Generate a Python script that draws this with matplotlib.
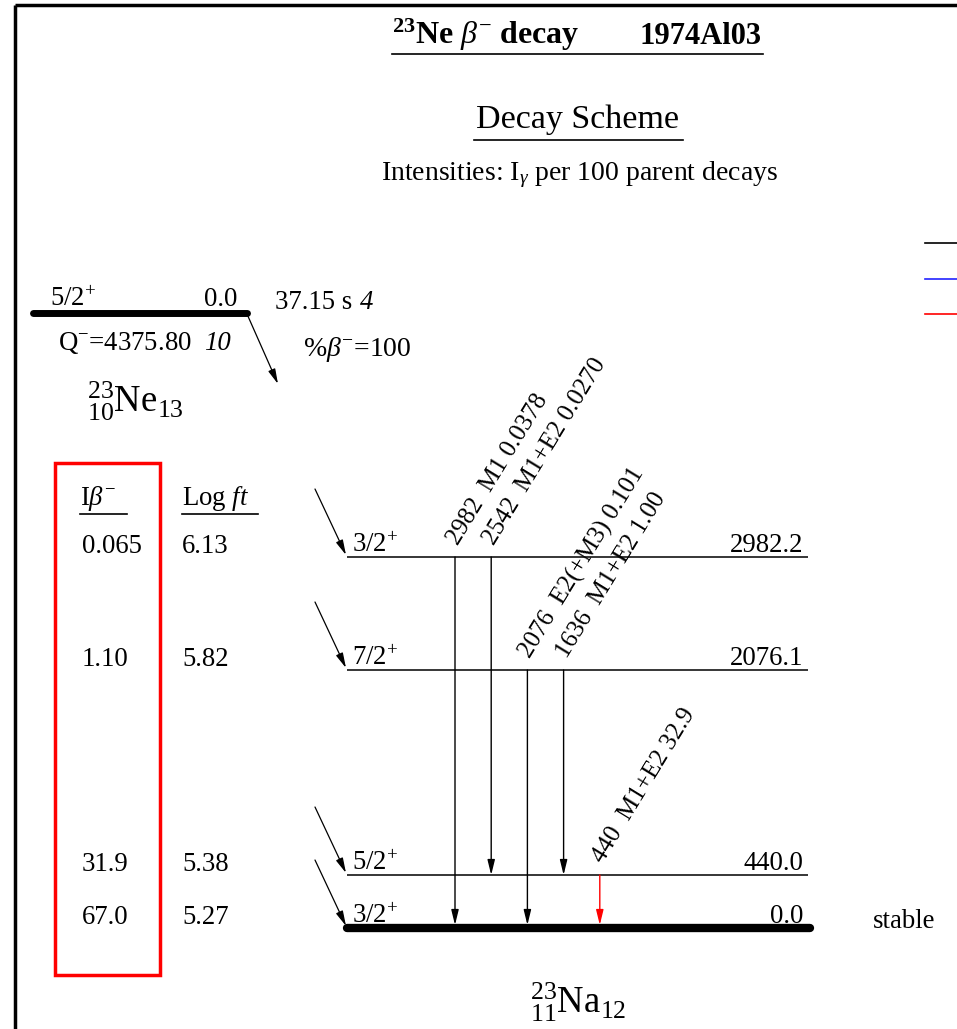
import matplotlib
matplotlib.use("Agg")
import matplotlib.pyplot as plt

plt.rcParams["font.family"] = ["Liberation Serif", "DejaVu Serif"]
plt.rcParams["mathtext.fontset"] = "custom"
plt.rcParams["mathtext.rm"] = "Liberation Serif"
plt.rcParams["mathtext.it"] = "Liberation Serif:italic"
plt.rcParams["mathtext.bf"] = "Liberation Serif:bold"

# daughter levels (23Na), keV
level_E = [2982.2, 2076.1, 440.0, 0.0]
level_jpi = ["3/2", "7/2", "5/2", "3/2"]
ibeta = ["0.065", "1.10", "31.9", "67.0"]
logft = ["6.13", "5.82", "5.38", "5.27"]

# gamma transitions: energy, multipolarity, intensity, from-level, to-level
g_E = ["2982", "2542", "2076", "1636", "440"]
g_mult = ["M1", "M1+E2", "E2(+M3)", "M1+E2", "M1+E2"]
g_int = ["0.0378", "0.0270", "0.101", "1.00", "32.9"]
g_from = [0, 0, 1, 1, 2]
g_to = [3, 2, 3, 2, 3]
g_color = ["black", "black", "black", "black", "red"]

parent_jpi = "5/2"
parent_E = "0.0"
halflife = ("37.15 s", "4")
qvalue = ("4375.80", "10")

# page layout in pixels (schematic, not to scale)
W, H = 957, 1029
rows = [557, 670, 875, 928]
x_lvl0, x_lvl1 = 347, 808
gx0, gdx = 455, 36.2
FS = 19.3
ARROW = "-|>,head_length=0.9,head_width=0.22"

fig = plt.figure(figsize=(W / 100, H / 100), dpi=100)
ax = fig.add_axes([0, 0, 1, 1])
ax.set_xlim(0, W)
ax.set_ylim(H, 0)
ax.axis("off")

# frame
ax.plot([15, W], [5, 5], color="black", lw=2.5, solid_capstyle="butt")
ax.plot([15, 15], [5, H], color="black", lw=2.5, solid_capstyle="butt")

# headings
ax.text(392, 44, r"$^{\mathbf{23}}\mathbf{Ne}\ \beta^{-}\ \mathbf{decay}$",
        fontsize=23, ha="left", va="baseline")
ax.text(640, 44, "1974Al03", fontsize=22, fontweight="bold", ha="left", va="baseline")
ax.plot([392, 763], [54, 54], color="black", lw=1.2)
ax.text(578, 128, "Decay Scheme", fontsize=24.5, ha="center", va="baseline")
ax.plot([474, 683], [140, 140], color="black", lw=1.2)
ax.text(580, 180, r"Intensities: I$_{\gamma}$ per 100 parent decays",
        fontsize=20, ha="center", va="baseline")

# intensity key (black / blue / red)
for yk, ck in zip([243, 279, 314], ["black", "#2222ff", "red"]):
    ax.plot([925, W], [yk, yk], color=ck, lw=1.2)

# parent level
ax.plot([33, 247], [313, 313], color="black", lw=5, solid_capstyle="round")
ax.text(50, 306, parent_jpi + r"$^{+}$", fontsize=FS, ha="left", va="baseline")
ax.text(237, 306, parent_E, fontsize=FS, ha="right", va="baseline")
ax.text(275, 309, halflife[0], fontsize=FS, ha="left", va="baseline")
ax.text(360, 309, halflife[1], fontsize=FS, style="italic", ha="left", va="baseline")
ax.text(58, 350, r"Q$^{-}$=" + qvalue[0], fontsize=FS, ha="left", va="baseline")
ax.text(204, 350, qvalue[1], fontsize=FS, style="italic", ha="left", va="baseline")
ax.text(303, 356, r"%$\beta^{-}$=100", fontsize=20, ha="left", va="baseline")
ax.annotate("", xy=(278, 384), xytext=(247, 314),
            arrowprops=dict(arrowstyle=ARROW, color="black", lw=0.9,
                            mutation_scale=10, shrinkA=0, shrinkB=0))
ax.text(87, 412, r"$^{23}_{10}\mathrm{Ne}_{13}$", fontsize=26.5, ha="left", va="baseline")

# Ibeta / log ft table
ax.add_patch(plt.Rectangle((55, 463), 105, 512, fill=False, edgecolor="red", lw=2.5))
ax.text(80, 505, r"I$\beta^{-}$", fontsize=FS, ha="left", va="baseline")
ax.plot([80, 127], [514, 514], color="black", lw=1.2)
ax.text(182, 505, r"Log $ft$", fontsize=FS, ha="left", va="baseline")
ax.plot([182, 258], [514, 514], color="black", lw=1.2)
for y, ib, lf in zip(rows, ibeta, logft):
    ax.text(82, y - 4, ib, fontsize=FS, ha="left", va="baseline")
    ax.text(182, y - 4, lf, fontsize=FS, ha="left", va="baseline")

# daughter levels with beta feeding
for i, (y, E, jp) in enumerate(zip(rows, level_E, level_jpi)):
    ground = E == 0.0
    ax.plot([x_lvl0, x_lvl1 + (2 if ground else 0)], [y, y], color="black",
            lw=6 if ground else 1.1, solid_capstyle="round" if ground else "butt")
    ax.text(352, y - 5, jp + r"$^{+}$", fontsize=FS, ha="left", va="baseline")
    ax.text(803, y - 5, f"{E:.1f}", fontsize=FS, ha="right", va="baseline")
    ax.annotate("", xy=(346, y - 2), xytext=(315, y - 68),
                arrowprops=dict(arrowstyle=ARROW, color="black", lw=0.9,
                                mutation_scale=10, shrinkA=0, shrinkB=0))

# gamma transitions
for k in range(len(g_E)):
    x = gx0 + k * gdx
    y1, y2 = rows[g_from[k]], rows[g_to[k]]
    ax.annotate("", xy=(x, y2 - (3 if g_to[k] == 3 else 0)), xytext=(x, y1),
                arrowprops=dict(arrowstyle=ARROW, color=g_color[k], lw=1.0,
                                mutation_scale=10, shrinkA=0, shrinkB=0))
    ax.text(x + 3, y1 - 11, f"{g_E[k]}  {g_mult[k]} {g_int[k]}", fontsize=18,
            rotation=58.5, rotation_mode="anchor", ha="left", va="baseline")

ax.text(530, 1013, r"$^{23}_{11}\mathrm{Na}_{12}$", fontsize=26.5, ha="left", va="baseline")
ax.text(873, 928, "stable", fontsize=FS, ha="left", va="baseline")

fig.savefig("out.png", dpi=100)
